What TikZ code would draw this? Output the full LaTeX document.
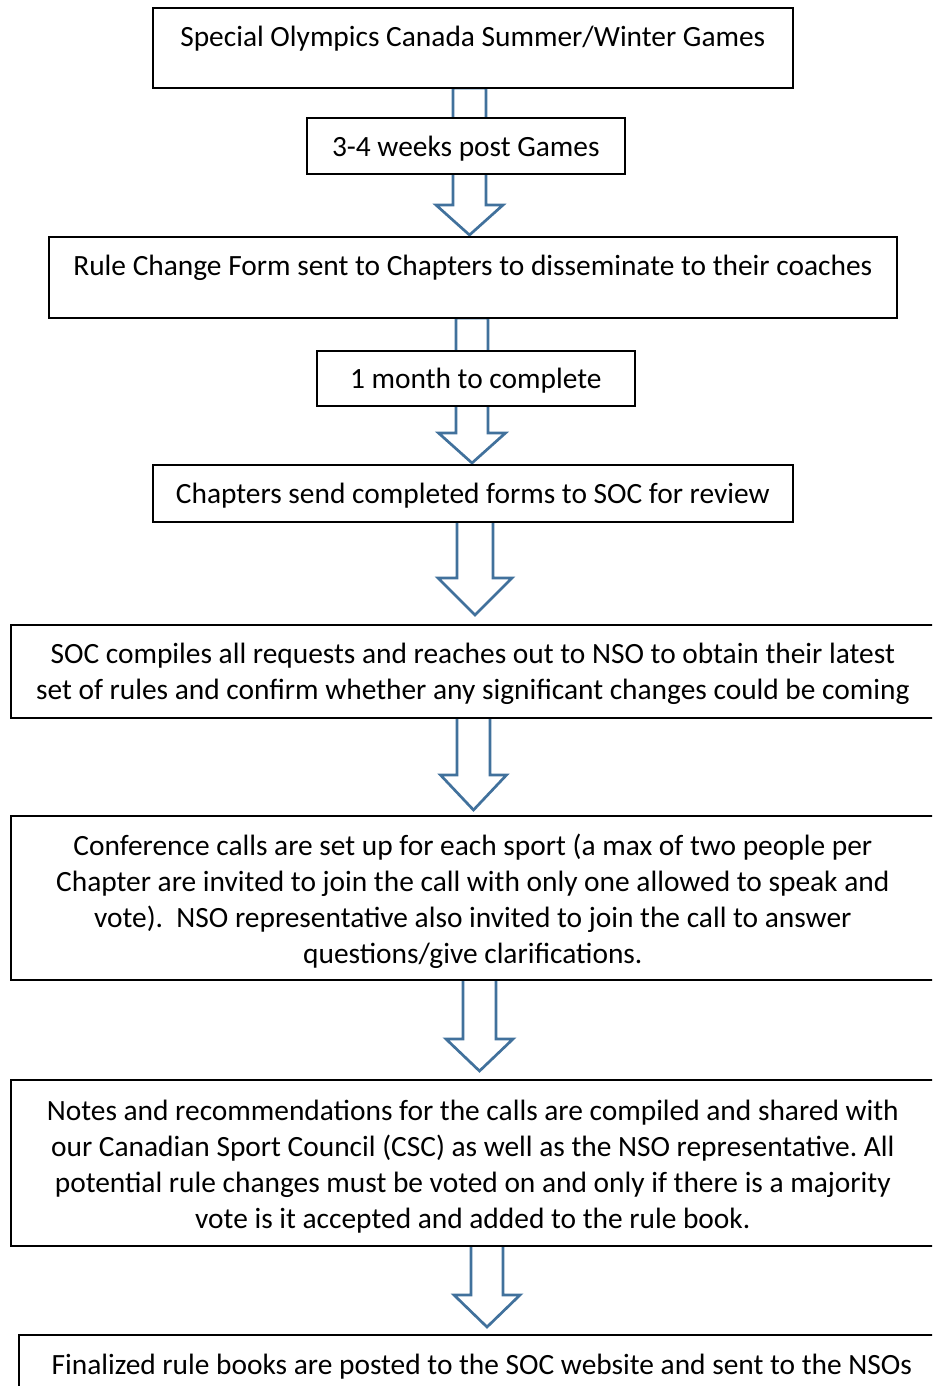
\documentclass[tikz,border=0pt]{standalone}
\usepackage{fontspec}
\setmainfont{Carlito}
\usetikzlibrary{positioning}
\definecolor{arrowblue}{HTML}{41719C}
\frenchspacing
\begin{document}
\begin{tikzpicture}[x=1pt,y=-1pt,line join=miter,
  stepbox/.style={draw=black,line width=1.6pt,fill=white,inner sep=0pt,anchor=north west},
  steptext/.style={inner sep=0pt,align=center,font=\fontsize{29.4}{36}\selectfont},
  blockarrow/.style={draw=arrowblue,line width=2.7pt,fill=white}]
%%
\useasboundingbox (0,0) rectangle (932,1386);
\clip (0,0) rectangle (932,1386);
%% block arrows (behind the boxes)
\foreach \cx/\top/\neck/\tip/\sw/\hw in {469.5/88/205/235/16.5/33.5, 472/318/433/463/16/33.5,
    475/520/578/615/18/37, 473.5/717/775/810/16.5/33, 479.5/976/1039/1071/16.5/33.5,
    487/1241/1295/1327/16/33}
  \draw[blockarrow] (\cx-\sw,\top) -- (\cx+\sw,\top) -- (\cx+\sw,\neck) -- (\cx+\hw,\neck)
    -- (\cx,\tip) -- (\cx-\hw,\neck) -- (\cx-\sw,\neck) -- cycle;
%% boxes
\node (box_1) at (152,7) [stepbox,minimum width=640pt,minimum height=80pt] {};
\node (box_2) at (306,117) [stepbox,minimum width=318pt,minimum height=56pt] {};
\node (box_3) at (48,236) [stepbox,minimum width=848pt,minimum height=81pt] {};
\node (box_4) at (316,350) [stepbox,minimum width=318pt,minimum height=55pt] {};
\node (box_5) at (152,464) [stepbox,minimum width=640pt,minimum height=57pt] {};
\node (box_6) at (10,624) [stepbox,minimum width=924pt,minimum height=93pt] {};
\node (box_7) at (10,815) [stepbox,minimum width=924pt,minimum height=164pt] {};
\node (box_8) at (10,1079) [stepbox,minimum width=924pt,minimum height=166pt] {};
\node (box_9) at (18,1334) [stepbox,minimum width=926pt,minimum height=80pt] {};
%% texts
\node (text_1) [steptext,below=14pt of box_1.north] {\strut Special Olympics Canada Summer/Winter Games};
\node (text_2) [steptext,below=14pt of box_2.north] {\strut 3-4 weeks post Games};
\node (text_3) [steptext,below=14pt of box_3.north] {\strut Rule Change Form sent to Chapters to disseminate to their coaches};
\node (text_4) [steptext,below=13pt of box_4.north] {\strut 1 month to complete};
\node (text_5) [steptext,below=14pt of box_5.north] {\strut Chapters send completed forms to SOC for review};
\node (text_6) [steptext,below=14pt of box_6.north] {\strut SOC compiles all requests and reaches out to NSO to obtain their latest\\
  set of rules and confirm whether any significant changes could be coming};
\node (text_7) [steptext,below=15pt of box_7.north] {\strut Conference calls are set up for each sport (a max of two people per\\
  Chapter are invited to join the call with only one allowed to speak and\\
  vote).~ NSO representative also invited to join the call to answer\\
  questions/give clarifications.};
\node (text_8) [steptext,below=16pt of box_8.north] {\strut Notes and recommendations for the calls are compiled and shared with\\
  our Canadian Sport Council (CSC) as well as the NSO representative. All\\
  potential rule changes must be voted on and only if there is a majority\\
  vote is it accepted and added to the rule book.};
\node (text_9) [steptext,below=15pt of box_9.north] {\strut Finalized rule books are posted to the SOC website and sent to the NSOs};
%
\end{tikzpicture}
\end{document}
